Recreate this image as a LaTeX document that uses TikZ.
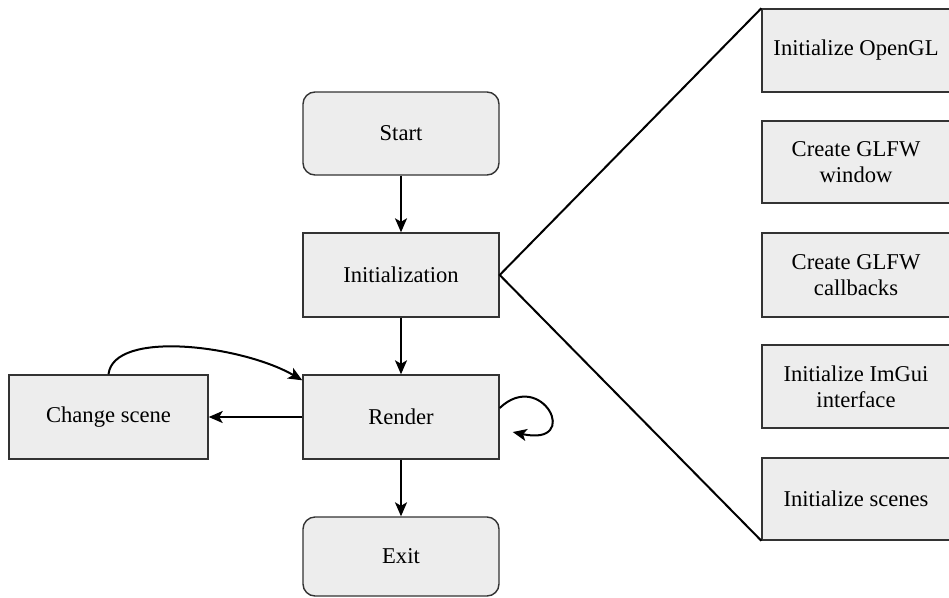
\documentclass[tikz,border=0pt]{standalone}
\usepackage{fontspec}
\setmainfont{Liberation Serif}
\usetikzlibrary{arrows.meta}
\begin{document}
\begin{tikzpicture}[x=1pt,y=-1pt,
  box/.style={draw=black!80, line width=1.4pt, fill=black!7, minimum width=196pt,
    minimum height=83pt, align=center, inner sep=0pt,
    font=\fontsize{22.6}{26}\selectfont},
  rbox/.style={box, rounded corners=12pt},
  side/.style={box, minimum width=188pt},
  arr/.style={-{Stealth[length=14pt,width=12pt,inset=3.5pt]}, line width=2pt, black},
  link/.style={line width=2pt, black}]
\fill[white] (0,0) rectangle (949,597);
\useasboundingbox (0,0) rectangle (949,597);

\node[rbox] (start) at (401,133.5) {Start};
\node[box, minimum height=84pt] (init) at (401,275) {Initialization};
\node[box, minimum height=84pt] (render) at (401,417) {Render};
\node[rbox, minimum height=79pt] (exit) at (401,556.5) {Exit};
\node[box, minimum width=199pt, minimum height=84pt] (change) at (108.5,417) {Change scene};

\node[side] (b1) at (856,50.5) {Initialize OpenGL};
\node[side, minimum height=82pt] (b2) at (856,162) {Create GLFW\\window};
\node[side, minimum height=84pt] (b3) at (856,275) {Create GLFW\\callbacks};
\node[side] (b4) at (856,386.5) {Initialize ImGui\\interface};
\node[side, minimum height=82pt] (b5) at (856,499) {Initialize scenes};

\draw[arr] (start.south) -- (init.north);
\draw[arr] (init.south) -- (render.north);
\draw[arr] (render.south) -- (exit.north);
\draw[arr] (render.west) -- (change.east);

\coordinate (rin) at ([yshift=-6pt]render.north west);
\draw[arr] (change.north) .. controls +(5,-45) and +(-60,-35) .. (rin);

\coordinate (lstart) at ([yshift=9pt]render.east);
\coordinate (lend) at ([xshift=13pt,yshift=-15pt]render.east);
\draw[arr] (lstart) .. controls +(42,-40) and +(70,15) .. (lend);

\draw[link] (b1.north west) -- (init.east) -- (b5.south west);
\end{tikzpicture}
\end{document}
